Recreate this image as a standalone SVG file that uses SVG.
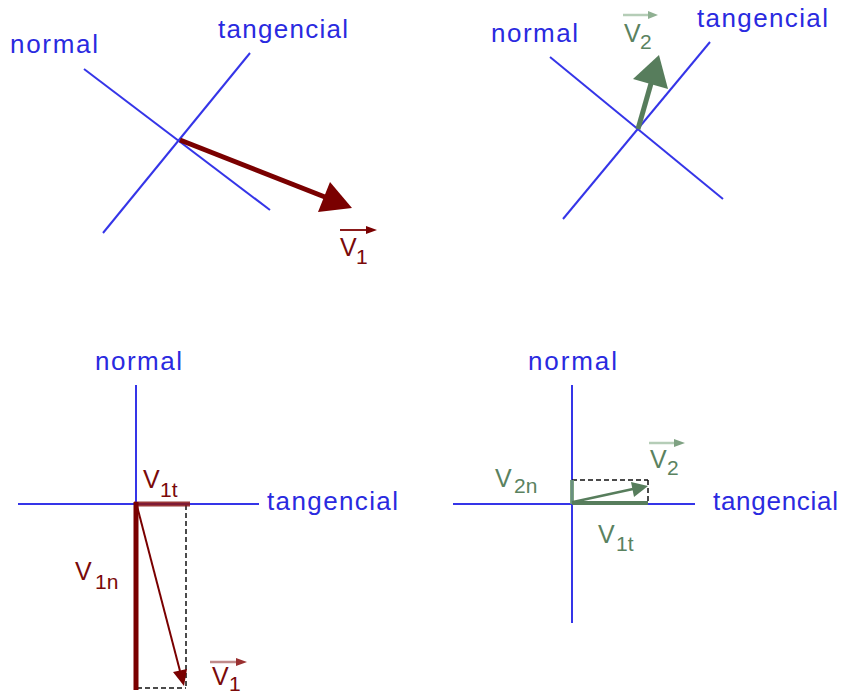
<svg xmlns="http://www.w3.org/2000/svg" width="845" height="695" viewBox="0 0 845 695">
<style>
.axis{stroke:#3535e8;stroke-width:2;fill:none}
.lbl{font-family:"Liberation Sans",Arial,sans-serif;font-size:26px;fill:#2a2ae0}
.vr{font-family:"Liberation Sans",Arial,sans-serif;font-size:25px;fill:#7a0a0a}
.vg{font-family:"Liberation Sans",Arial,sans-serif;font-size:25px;fill:#5a825f}
.sub{font-size:21px}
.dash{stroke:#111;stroke-width:1.5;stroke-dasharray:5 3;fill:none}
.red{fill:#7a0000}
.green{fill:#577d5c}
</style>
<rect width="845" height="695" fill="#fff"/>

<g id="panel-top-left">
  <line class="axis" x1="84" y1="69" x2="270" y2="210"/>
  <line class="axis" x1="103" y1="233" x2="250" y2="53"/>
  <text class="lbl" x="10" y="53" textLength="88">normal</text>
  <text class="lbl" x="218" y="38" textLength="130">tangencial</text>
  <g id="v1-top">
    <line x1="180" y1="140" x2="330" y2="199" stroke="#7a0000" stroke-width="5"/>
    <polygon class="red" points="352,208 318,212 330,182"/>
  </g>
  <g id="v1-label-top">
    <line x1="340" y1="230" x2="368" y2="230" stroke="#8a1a1a" stroke-width="2"/>
    <polygon class="red" points="366,226 377,230 366,234"/>
    <text class="vr" x="340" y="256">V</text>
    <text class="vr sub" x="356" y="264">1</text>
  </g>
</g>

<g id="panel-top-right">
  <line class="axis" x1="550" y1="57" x2="723" y2="199"/>
  <line class="axis" x1="563" y1="219" x2="710" y2="42"/>
  <text class="lbl" x="491" y="42" textLength="87">normal</text>
  <text class="lbl" x="697" y="27" textLength="131">tangencial</text>
  <g id="v2-top">
    <line x1="638" y1="129" x2="652" y2="80" stroke="#577d5c" stroke-width="5"/>
    <polygon class="green" points="659,55 668,89 633,79"/>
  </g>
  <g id="v2-label-top">
    <line x1="623" y1="15" x2="650" y2="15" stroke="#b5cdb7" stroke-width="2.5"/>
    <polygon fill="#8fb092" points="648,11 658,15 648,19"/>
    <text class="vg" x="624" y="42">V</text>
    <text class="vg sub" x="640" y="49">2</text>
  </g>
</g>

<g id="panel-bottom-left">
  <line class="axis" x1="136" y1="385" x2="136" y2="504"/>
  <line class="axis" x1="18" y1="504" x2="259" y2="504"/>
  <text class="lbl" x="95" y="370" textLength="87">normal</text>
  <text class="lbl" x="267" y="510" textLength="131">tangencial</text>
  <g id="components-1">
    <line class="dash" x1="186" y1="505" x2="186" y2="688"/>
    <line class="dash" x1="137" y1="688" x2="186" y2="688"/>
    <line x1="134" y1="504" x2="190" y2="504" stroke="#8a1515" stroke-opacity="0.85" stroke-width="5"/>
    <line x1="136" y1="502" x2="136" y2="690" stroke="#7a0000" stroke-width="5"/>
    <line x1="137" y1="506" x2="180" y2="671" stroke="#7a0000" stroke-width="2"/>
    <polygon class="red" points="184,686 187,669 173,672"/>
  </g>
  <text class="vr" x="143" y="488">V</text>
  <text class="vr sub" x="160" y="497">1t</text>
  <text class="vr" x="75" y="580">V</text>
  <text class="vr sub" x="95" y="589">1n</text>
  <g id="v1-label-bottom">
    <line x1="210" y1="662" x2="238" y2="662" stroke="#c08a8a" stroke-width="2.5"/>
    <polygon fill="#9a3030" points="236,658 247,662 236,666"/>
    <text class="vr" x="212" y="685">V</text>
    <text class="vr sub" x="229" y="691">1</text>
  </g>
</g>

<g id="panel-bottom-right">
  <line class="axis" x1="572" y1="385" x2="572" y2="623"/>
  <line class="axis" x1="453" y1="504" x2="695" y2="504"/>
  <text class="lbl" x="528" y="370" textLength="89">normal</text>
  <text class="lbl" x="713" y="510" textLength="125">tangencial</text>
  <g id="components-2">
    <line class="dash" x1="572" y1="480" x2="648" y2="480"/>
    <line class="dash" x1="648" y1="480" x2="648" y2="504"/>
    <line x1="572" y1="504" x2="572" y2="480" stroke="#6f9a74" stroke-opacity="0.9" stroke-width="4"/>
    <line x1="572" y1="503" x2="648" y2="503" stroke="#577d5c" stroke-width="4"/>
    <line x1="573" y1="502" x2="633" y2="489" stroke="#577d5c" stroke-width="2.5"/>
    <polygon class="green" points="648,486 634,497 631,482"/>
  </g>
  <text class="vg" x="495" y="487">V</text>
  <text class="vg sub" x="514" y="493">2n</text>
  <text class="vg" x="598" y="543">V</text>
  <text class="vg sub" x="616" y="551">1t</text>
  <g id="v2-label-bottom">
    <line x1="649" y1="443" x2="676" y2="443" stroke="#b5cdb7" stroke-width="2.5"/>
    <polygon fill="#7fa283" points="674,439 685,443 674,447"/>
    <text class="vg" x="650" y="468">V</text>
    <text class="vg sub" x="667" y="475">2</text>
  </g>
</g>
</svg>
